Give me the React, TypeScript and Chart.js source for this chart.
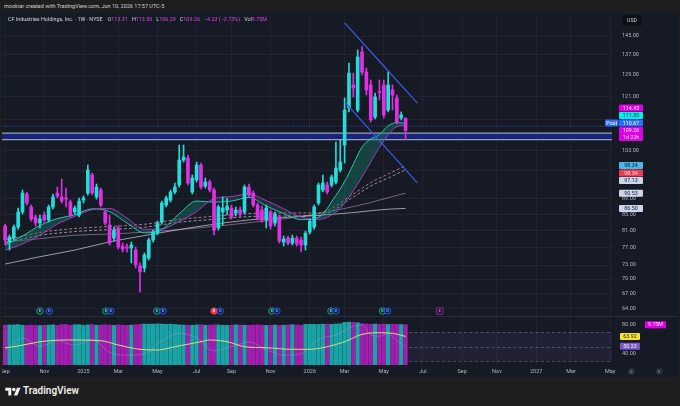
import React, { useEffect, useRef } from 'react';
import { Chart, registerables } from 'chart.js';

Chart.register(...registerables);

// ---------- calendar ----------
const FIRST_WEEK = '2024-09-02';
const VIEW_START = '2024-08-28';
const VIEW_END = '2027-05-06';

// ---------- weekly OHLC ----------
const opens = [82.06,78.21,79.16,81.81,85.58,90.32,86.87,84.30,82.80,84.81,83.55,86.87,90.59,89.51,89.24,88.17,85.58,84.81,88.70,90.59,95.61,89.51,91.40,85.58,82.31,79.16,81.57,77.29,77.06,76.82,76.36,72.80,72.37,74.56,78.69,80.34,83.04,87.39,88.70,90.86,92.79,100.00,100.61,90.86,94.18,98.52,92.51,93.62,91.40,81.57,85.58,86.09,86.61,85.32,86.09,85.58,92.23,90.59,87.39,86.09,83.55,85.58,82.80,84.30,78.21,79.16,77.97,79.16,78.69,77.52,80.58,81.81,87.91,91.40,92.79,92.79,93.62,97.04,104.60,116.87,125.21,116.17,138.20,130.15,125.21,113.76,122.60,125.21,116.17,123.33,120.42,113.42,113.31];
const highs = [82.55,79.88,82.31,86.61,91.40,90.86,87.39,84.81,84.81,85.58,87.39,90.32,92.23,94.46,91.95,88.70,87.13,89.24,89.78,98.52,96.18,93.07,91.95,86.09,84.81,81.81,82.06,77.97,77.76,78.21,77.06,73.45,75.69,79.16,81.06,83.29,88.43,89.78,91.40,93.34,104.60,104.60,101.51,95.61,99.40,99.10,94.75,94.18,91.95,87.39,89.51,89.24,87.39,86.87,86.87,92.79,93.07,91.13,87.91,87.13,87.39,86.09,85.58,84.81,79.64,79.64,79.88,79.64,79.40,80.82,83.80,87.39,93.34,95.61,93.62,95.61,105.54,106.18,120.42,133.70,129.76,139.10,140.50,131.75,127.10,122.23,127.10,127.10,130.15,125.21,121.50,115.48,113.56];
const lows = [77.52,76.36,78.69,81.32,85.07,87.39,83.29,82.06,81.57,83.04,83.04,86.35,89.24,87.91,86.87,84.30,85.07,84.30,87.91,90.05,90.05,88.97,86.87,82.31,77.52,78.45,76.59,75.92,75.92,73.45,72.37,67.35,71.50,74.12,78.21,79.88,82.55,86.87,88.17,90.32,92.23,99.40,92.79,90.32,93.62,91.68,91.95,90.86,79.88,81.06,82.31,84.81,83.80,84.56,84.30,85.07,89.51,86.87,83.55,83.04,81.57,81.32,82.06,77.97,77.29,77.52,77.52,77.29,75.92,76.36,80.11,81.32,87.39,90.86,90.32,92.23,93.07,96.46,99.10,115.48,120.78,115.48,129.00,121.50,112.07,113.08,119.70,113.42,115.48,116.17,111.40,112.74,106.29];
const closes = [78.69,79.40,81.81,85.58,90.59,87.91,83.80,82.80,83.80,83.55,86.87,89.51,89.78,88.43,88.97,84.81,86.61,88.43,89.24,97.04,90.59,92.23,87.39,82.80,77.97,81.06,77.06,76.59,76.82,77.52,73.02,71.50,75.24,78.69,80.58,82.80,87.91,89.24,90.86,92.23,100.00,100.91,93.34,94.75,98.52,92.23,93.62,91.40,81.06,86.87,86.61,87.13,84.30,86.09,85.07,92.23,90.05,87.39,84.05,83.55,86.61,82.06,85.07,78.45,78.92,77.97,79.16,77.76,77.52,80.34,83.29,86.87,92.79,93.34,90.86,95.04,97.63,99.40,116.17,129.76,124.08,136.16,130.15,123.33,112.74,120.78,122.40,114.44,125.21,121.50,112.07,114.44,109.26];
const volumesM = [9.62,9.70,9.68,9.75,9.60,9.55,9.66,9.58,9.52,9.60,9.64,9.70,9.55,9.78,9.80,9.62,9.72,9.74,9.58,9.70,9.76,9.60,9.66,9.72,9.64,9.56,9.70,9.62,9.58,9.66,9.74,9.80,9.90,9.86,9.88,9.92,9.90,9.84,9.88,9.80,9.70,9.66,9.62,9.58,9.70,9.74,9.60,9.64,9.72,9.68,9.60,9.56,9.62,9.70,9.66,9.60,9.58,9.64,9.70,9.62,9.56,9.60,9.66,9.58,9.62,9.70,9.74,9.66,9.58,9.80,9.84,9.82,9.80,9.86,9.88,9.82,9.90,9.96,10.30,10.36,10.32,10.20,9.98,9.92,9.86,9.90,9.84,9.88,9.82,9.86,9.80,9.78,9.75];

// ---------- moving averages ----------
const emaWeeks = [0,4,8,12,16,20,24,28,32,36,40,44,48,52,56,60,64,68,72,76,78,80,82,84,86,88,90,92];
const emaFast = [77.52,79.64,82.2,83.9,84.87,86.4,85.68,82.80,80.4,81.22,85.13,88.43,88.14,88.43,89.38,87.16,85.18,83.65,84.23,89.97,93.74,98.75,103.98,106.48,107.95,110.8,111.86,111.59];
const emaSlow = [76.36,77.76,79.8,82.55,84.46,86.17,86.48,84.05,81.25,81.32,83.2,85.7,89.08,89.65,90.32,88.55,86.4,84.3,83.7,85.58,87.86,91.21,95.04,99.40,103.91,107.78,110.52,110.9];
const maWeeks = [0,8,16,24,32,40,48,56,64,72,80,84,88,92];
const maDashA = [78.69,80.49,81.45,81.94,82.49,83.72,84.48,85.18,85.32,85.4,90.32,93.46,95.89,98.34];
const maDashB = [77.97,79.8,80.7,81.2,81.75,83.0,83.72,84.4,84.56,84.64,89.51,92.51,94.75,97.13];
const ma100 = [78.21,79.02,79.83,80.11,80.56,81.2,81.96,82.88,83.85,85.18,86.97,88.05,89.32,90.53];
const ma200 = [73.23,74.85,76.36,78.24,79.74,81.2,82.5,83.57,84.2,84.74,85.44,85.9,86.3,86.50];

// ---------- RSI pane ----------
const rsiWeeks = [0,4,8,12,16,20,24,28,32,36,40,44,48,52,56,60,64,68,72,76,80,82,84,86,88,90,92];
const rsiValues = [45,62,50,58,52,60,42,38,40,58,68,62,44,50,56,46,38,40,60,66,78,80,66,64,68,58,50.23];
const rsiMaWeeks = [0,3,8,14,22,26,31,35,39,45,47,51,55,60,66,70,74,78,82,86,89,92];
const rsiMaValues = [48.3,50.7,56.6,59.0,58.0,52.1,46.1,45.2,49.7,56.6,59.0,56.6,49.7,48.3,46.1,46.1,49.7,56.6,66.8,69.0,68.2,63.92];
const rsiBands = [70, 50, 30];
const rsiTicks = [80, 40];
const rsiRange = [24.5, 90.7];
const volRange = [0, 11.6];

// ---------- drawings ----------
const channelDates = ['2026-03-02', '2026-06-27'];
const channelUpper = [150.8, 118.6];
const channelLower = [119.0, 93.4];
const zoneTop = 108.4;
const zoneBottom = 106.3;
const postPrice = 110.67;

// ---------- price axis ----------
const priceRange = [62.67, 154.88];
const priceTicks = [145, 137, 129, 121, 113, 103, 97, 89, 85, 81, 77, 73, 70, 67, 64];
const axisLabelValues = [114.43, 111.59, 110.67, 109.26, 98.34, 98.34, 97.13, 90.53, 86.50];
const axisLabelBg = ['#e000e6', '#00eef0', '#2f6bff', '#e000e6', '#4db6e8', '#ee3d52', '#cdd6ea', '#cdd6ea', '#cdd6ea'];
const axisLabelFg = ['#fde6ff', '#06262a', '#ffffff', '#fde6ff', '#0a1a24', '#ffe8ea', '#141824', '#141824', '#141824'];
const ANCHOR_LABEL = 3;

// ---------- events ----------
const earningsDates = ['2024-10-28', '2025-02-11', '2025-05-04', '2025-08-04', '2025-11-05', '2026-02-08', '2026-05-02'];
const earningsMissed = [false, false, false, true, false, false, false];
const dividendDates = ['2024-11-12', '2025-02-19', '2025-05-14', '2025-08-14', '2025-11-13', '2026-02-16', '2026-05-10'];
const nextEarnings = '2026-08-02';

// ---------- legend ----------
const legendName = 'CF Industries Holdings, Inc. · 1W · NYSE';
const legendKeys = ['O', 'H', 'L', 'C'];
const legendOHLC = [113.31, 113.56, 106.29, 109.26];
const legendChange = '−4.23 (−3.73%)';
const legendVol = '9.75M';

const FONT = 'Roboto, "Liberation Sans", "DejaVu Sans", sans-serif';
const GRID = 'rgba(255,255,255,0.045)';
const UP = '#27dcd8';
const DOWN = '#df30e6';
const VOL_UP = '#1aa3a4';
const VOL_DOWN = '#a11faf';

const DAY = 864e5;
const dayOf = (s: string) => {
  const [y, m, d] = s.split('-').map(Number);
  return Date.UTC(y, m - 1, d) / DAY;
};
const week0 = dayOf(FIRST_WEEK);
const wx = (w: number) => week0 + 7 * w;
const xMin = dayOf(VIEW_START);
const xMax = dayOf(VIEW_END);

const MONTHS = ['Jan', 'Feb', 'Mar', 'Apr', 'May', 'Jun', 'Jul', 'Aug', 'Sep', 'Oct', 'Nov', 'Dec'];
function monthTicks() {
  const res: { x: number; label: string }[] = [];
  for (let y = 2024; y <= 2027; y++) {
    for (let m = 0; m < 12; m += 2) {
      const d = new Date(Date.UTC(y, m, 1));
      while (d.getUTCDay() !== 1) d.setUTCDate(d.getUTCDate() + 1);
      const x = d.getTime() / DAY;
      if (x >= xMin && x <= xMax) res.push({ x, label: m === 0 ? String(y) : MONTHS[m] });
    }
  }
  return res;
}
const TICKS_X = monthTicks();

function box(ctx: any, x: number, yc: number, w: number, h: number, bg: string, fg: string, text: string) {
  ctx.fillStyle = bg;
  ctx.beginPath();
  if (ctx.roundRect) ctx.roundRect(x, yc - h / 2, w, h, 1);
  else ctx.rect(x, yc - h / 2, w, h);
  ctx.fill();
  ctx.fillStyle = fg;
  ctx.font = `5.3px ${FONT}`;
  ctx.textAlign = 'center';
  ctx.textBaseline = 'middle';
  ctx.fillText(text, x + w / 2, yc + 0.3);
}

function marker(ctx: any, cx: number, cy: number, letter: string, stroke: string, fill: string, fg: string, square = false) {
  ctx.beginPath();
  if (square) ctx.rect(cx - 3.3, cy - 3.3, 6.6, 6.6);
  else ctx.arc(cx, cy, 3.3, 0, Math.PI * 2);
  ctx.fillStyle = fill;
  ctx.fill();
  ctx.lineWidth = 0.8;
  ctx.strokeStyle = stroke;
  ctx.stroke();
  ctx.fillStyle = fg;
  ctx.font = `bold 4.2px ${FONT}`;
  ctx.textAlign = 'center';
  ctx.textBaseline = 'middle';
  ctx.fillText(letter, cx, cy + 0.3);
}

const mainOverlay = {
  id: 'mainOverlay',
  afterDraw(chart: any) {
    const { ctx, chartArea, scales } = chart;
    const ys = scales.y;
    const xs = scales.x;
    ctx.save();
    const my = chartArea.bottom - 5;
    earningsDates.forEach((d, i) => {
      const ex = xs.getPixelForValue(dayOf(d));
      if (earningsMissed[i]) marker(ctx, ex, my, 'E', '#f23645', '#f23645', '#ffffff');
      else marker(ctx, ex, my, 'E', '#26a69a', '#10332f', '#4fd1c0');
      const dx = xs.getPixelForValue(dayOf(dividendDates[i]));
      marker(ctx, dx, my, 'D', '#2962ff', '#13204a', '#6f95ff');
    });
    marker(ctx, xs.getPixelForValue(dayOf(nextEarnings)), my, 'E', '#9c27b0', '#2a1430', '#c060d8', true);

    const want = axisLabelValues.map((v) => ys.getPixelForValue(v));
    const pos = [...want];
    for (let i = ANCHOR_LABEL - 1; i >= 0; i--) pos[i] = Math.min(want[i], pos[i + 1] - 7.5);
    for (let i = ANCHOR_LABEL + 1; i < pos.length; i++) {
      const minY = i === ANCHOR_LABEL + 1 ? pos[i - 1] + 14.2 : pos[i - 1] + 7.5;
      pos[i] = Math.max(want[i], minY);
    }
    const bx = chartArea.right + 7;
    axisLabelValues.forEach((v, i) => {
      box(ctx, bx, pos[i], 24, 7, axisLabelBg[i], axisLabelFg[i], v.toFixed(2));
      if (i === ANCHOR_LABEL) box(ctx, bx, pos[i] + 7, 24, 7, axisLabelBg[i], axisLabelFg[i], '1d 22h');
    });
    const postIdx = axisLabelValues.indexOf(postPrice);
    box(ctx, chartArea.right - 7, pos[postIdx], 13.5, 7, '#2f6bff', '#ffffff', 'Post');
    ctx.restore();
  },
};

const lowerOverlay = {
  id: 'lowerOverlay',
  beforeDatasetsDraw(chart: any) {
    const { ctx, chartArea, scales } = chart;
    const y = scales.y;
    ctx.save();
    const t = y.getPixelForValue(rsiBands[0]);
    const b = y.getPixelForValue(rsiBands[2]);
    ctx.fillStyle = 'rgba(126,87,194,0.11)';
    ctx.fillRect(chartArea.left, t, chartArea.right - chartArea.left, b - t);
    ctx.strokeStyle = 'rgba(140,142,155,0.55)';
    ctx.lineWidth = 0.8;
    ctx.setLineDash([3, 2.5]);
    rsiBands.forEach((v) => {
      const py = Math.round(y.getPixelForValue(v)) + 0.5;
      ctx.beginPath();
      ctx.moveTo(chartArea.left, py);
      ctx.lineTo(chartArea.right, py);
      ctx.stroke();
    });
    ctx.restore();
  },
  afterDraw(chart: any) {
    const { ctx, chartArea, scales } = chart;
    ctx.save();
    const bx = chartArea.right + 8;
    box(ctx, bx, scales.y.getPixelForValue(rsiMaValues[rsiMaValues.length - 1]), 20, 7, '#f5e13a', '#2a2400', rsiMaValues[rsiMaValues.length - 1].toFixed(2));
    box(ctx, bx, scales.y.getPixelForValue(rsiValues[rsiValues.length - 1]), 20, 7, '#7e57c2', '#f0eaff', rsiValues[rsiValues.length - 1].toFixed(2));
    box(ctx, chartArea.right + 33, scales.yv.getPixelForValue(volumesM[volumesM.length - 1]), 21, 7, '#e000e6', '#fde6ff', legendVol);
    ctx.restore();
  },
};

function xScaleCommon(showLabels: boolean) {
  return {
    type: 'linear',
    min: xMin,
    max: xMax,
    bounds: 'data',
    offset: false,
    grid: { color: GRID, drawTicks: false, offset: false },
    border: { display: false },
    ticks: {
      display: showLabels,
      autoSkip: false,
      maxRotation: 0,
      minRotation: 0,
      padding: 3,
      color: '#b2b5be',
      font: { size: 5.5, family: FONT },
      callback: (_v: any, i: number) => (TICKS_X[i] ? TICKS_X[i].label : ''),
    },
    afterBuildTicks: (s: any) => {
      s.ticks = TICKS_X.map((t) => ({ value: t.x }));
    },
    afterFit: (s: any) => {
      s.height = showLabels ? 12 : 0;
      s.paddingLeft = 0;
      s.paddingRight = 0;
    },
  };
}

const lineDs = (pts: { x: number; y: number }[], color: string, width: number, order: number, extra: any = {}) => ({
  type: 'line',
  data: pts,
  borderColor: color,
  borderWidth: width,
  pointRadius: 0,
  tension: 0.4,
  cubicInterpolationMode: 'monotone',
  fill: false,
  order,
  ...extra,
});

export default function App() {
  const mainRef = useRef<HTMLCanvasElement | null>(null);
  const lowRef = useRef<HTMLCanvasElement | null>(null);

  useEffect(() => {
    document.body.style.margin = '0';
    const candleX = opens.map((_, i) => wx(i));
    const colors = closes.map((c, i) => (c >= opens[i] ? UP : DOWN));
    const volColors = closes.map((c, i) => (c >= opens[i] ? VOL_UP : VOL_DOWN));

    const series = (weeks: number[], vals: number[]) => weeks.map((w, i) => ({ x: wx(w), y: vals[i] }));

    const main = new Chart(mainRef.current as HTMLCanvasElement, {
      type: 'bar',
      data: {
        datasets: [
          lineDs([{ x: xMin, y: zoneTop }, { x: xMax, y: zoneTop }], '#9ba1b8', 1.4, 9, { tension: 0 }),
          lineDs([{ x: xMin, y: zoneBottom }, { x: xMax, y: zoneBottom }], '#9ba1b8', 1.4, 9, {
            tension: 0,
            fill: '-1',
            backgroundColor: '#18237a',
          }),
          lineDs([{ x: xMin, y: postPrice }, { x: xMax, y: postPrice }], 'rgba(70,115,255,0.75)', 0.8, 8, {
            tension: 0,
            borderDash: [1, 1.6],
          }),
          lineDs(series(maWeeks, ma200), 'rgba(200,200,210,0.75)', 1, 6),
          lineDs(series(maWeeks, ma100), 'rgba(205,160,205,0.6)', 0.9, 6),
          lineDs(series(maWeeks, maDashB), 'rgba(215,215,230,0.7)', 0.9, 6, { borderDash: [3, 2] }),
          lineDs(series(maWeeks, maDashA), 'rgba(235,150,170,0.8)', 0.9, 6, { borderDash: [3, 2] }),
          lineDs(series(emaWeeks, emaSlow), '#a73cba', 1, 5),
          lineDs(series(emaWeeks, emaFast), '#2cc3ad', 1, 5, {
            fill: { target: '-1', above: 'rgba(24,125,105,0.42)', below: 'rgba(40,100,95,0.32)' },
          }),
          {
            type: 'bar',
            data: candleX.map((x, i) => ({ x, y: [lows[i], highs[i]] })),
            backgroundColor: colors,
            barThickness: 1,
            grouped: false,
            order: 2,
          },
          {
            type: 'bar',
            data: candleX.map((x, i) => ({ x, y: [opens[i], closes[i]] })),
            backgroundColor: colors,
            barThickness: 3,
            minBarLength: 1,
            grouped: false,
            order: 1,
          },
          lineDs(channelDates.map((d, i) => ({ x: dayOf(d), y: channelUpper[i] })), '#3c5be4', 1.2, -2, { tension: 0 }),
          lineDs(channelDates.map((d, i) => ({ x: dayOf(d), y: channelLower[i] })), '#3c5be4', 1.2, -2, { tension: 0 }),
        ],
      } as any,
      options: {
        animation: false,
        responsive: true,
        maintainAspectRatio: false,
        events: [],
        layout: { padding: 0 },
        plugins: { legend: { display: false }, tooltip: { enabled: false } },
        scales: {
          x: xScaleCommon(false),
          y: {
            type: 'logarithmic',
            position: 'right',
            min: priceRange[0],
            max: priceRange[1],
            bounds: 'data',
            beginAtZero: false,
            grid: { color: GRID, drawTicks: false },
            border: { display: false },
            ticks: {
              autoSkip: false,
              padding: 10,
              color: '#b2b5be',
              font: { size: 5.5, family: FONT },
              callback: (v: any) => Number(v).toFixed(2),
            },
            afterBuildTicks: (s: any) => {
              s.ticks = priceTicks.map((v) => ({ value: v }));
            },
            afterFit: (s: any) => {
              s.width = 66;
              s.paddingTop = 0;
              s.paddingBottom = 0;
            },
          },
        },
      } as any,
      plugins: [mainOverlay],
    });

    const low = new Chart(lowRef.current as HTMLCanvasElement, {
      type: 'bar',
      data: {
        datasets: [
          lineDs(series(rsiMaWeeks, rsiMaValues), 'rgba(222,226,130,0.95)', 1, 0, { yAxisID: 'y' }),
          lineDs(series(rsiWeeks, rsiValues), 'rgba(180,150,235,0.45)', 0.8, 1, { yAxisID: 'y', tension: 0.3 }),
          {
            type: 'bar',
            data: candleX.map((x, i) => ({ x, y: volumesM[i] })),
            backgroundColor: volColors,
            barThickness: 3.6,
            grouped: false,
            yAxisID: 'yv',
            order: 2,
          },
        ],
      } as any,
      options: {
        animation: false,
        responsive: true,
        maintainAspectRatio: false,
        events: [],
        layout: { padding: { top: 1, left: 0, right: 0, bottom: 0 } },
        plugins: { legend: { display: false }, tooltip: { enabled: false } },
        scales: {
          x: xScaleCommon(true),
          y: {
            type: 'linear',
            position: 'right',
            min: rsiRange[0],
            max: rsiRange[1],
            bounds: 'data',
            grid: { display: false, drawTicks: false },
            border: { display: false },
            ticks: {
              autoSkip: false,
              padding: 10,
              color: '#b2b5be',
              font: { size: 5.5, family: FONT },
              callback: (v: any) => Number(v).toFixed(2),
            },
            afterBuildTicks: (s: any) => {
              s.ticks = rsiTicks.map((v) => ({ value: v }));
            },
            afterFit: (s: any) => {
              s.width = 66;
              s.paddingTop = 0;
              s.paddingBottom = 0;
            },
          },
          yv: {
            type: 'linear',
            display: false,
            min: volRange[0],
            max: volRange[1],
            bounds: 'data',
          },
        },
      } as any,
      plugins: [lowerOverlay],
    });

    return () => {
      main.destroy();
      low.destroy();
    };
  }, []);

  const txt = '#d1d4dc';
  const val = '#e23ee8';

  return (
    <div
      style={{
        position: 'fixed',
        left: 0,
        top: 0,
        width: 680,
        height: 406,
        background: '#1e1e1e',
        overflow: 'hidden',
        fontFamily: FONT,
      }}
    >
      <div style={{ position: 'absolute', left: 4, top: 3, fontSize: 5.5, lineHeight: '7px', color: '#cfcfcf', whiteSpace: 'nowrap' }}>
        mookiar created with TradingView.com, Jun 10, 2026 17:57 UTC-5
      </div>
      <div style={{ position: 'absolute', left: 2, top: 13, width: 676, height: 364, background: '#161a25', borderRadius: 3 }} />
      <div style={{ position: 'absolute', left: 2, top: 14, width: 676, height: 302 }}>
        <canvas ref={mainRef} />
      </div>
      <div style={{ position: 'absolute', left: 2, top: 316, width: 676, height: 1, background: '#2a2e39' }} />
      <div style={{ position: 'absolute', left: 2, top: 316, width: 676, height: 61 }}>
        <canvas ref={lowRef} />
      </div>

      <div
        style={{
          position: 'absolute',
          left: 8,
          top: 16,
          display: 'flex',
          gap: 4,
          fontSize: 5.4,
          lineHeight: '7px',
          whiteSpace: 'nowrap',
          color: txt,
        }}
      >
        <span style={{ marginRight: 1 }}>{legendName}</span>
        {legendKeys.map((k, i) => (
          <span key={k}>
            {k}
            <span style={{ color: val }}>{legendOHLC[i].toFixed(2)}</span>
          </span>
        ))}
        <span style={{ color: val }}>{legendChange}</span>
        <span>
          Vol<span style={{ color: val }}>{legendVol}</span>
        </span>
      </div>

      <div
        style={{
          position: 'absolute',
          left: 622,
          top: 15,
          width: 20,
          height: 11,
          background: '#0e1018',
          borderRadius: 2,
          color: '#d1d4dc',
          fontSize: 5.2,
          lineHeight: '11px',
          textAlign: 'center',
        }}
      >
        USD
      </div>

      {['A', 'E'].map((c, i) => (
        <div
          key={c}
          style={{
            position: 'absolute',
            left: i === 0 ? 628 : 655.5,
            top: 367.5,
            width: 7,
            height: 7,
            borderRadius: 4,
            background: '#2a2e39',
            color: '#9598a1',
            fontSize: 4.3,
            lineHeight: '7px',
            textAlign: 'center',
          }}
        >
          {c}
        </div>
      ))}

      <svg style={{ position: 'absolute', left: 5, top: 386 }} width="16" height="12" viewBox="0 0 36 28">
        <path d="M14 22H7V11H0V4h14v18zM28 22h-8l7.5-18h8L28 22z" fill="#f2f2f2" />
        <circle cx="20" cy="8" r="4" fill="#f2f2f2" />
      </svg>
      <div style={{ position: 'absolute', left: 23, top: 385, fontSize: 10, lineHeight: '12px', fontWeight: 600, color: '#f0f0f0' }}>
        TradingView
      </div>
    </div>
  );
}
